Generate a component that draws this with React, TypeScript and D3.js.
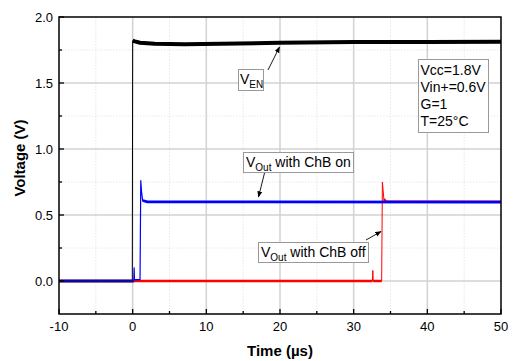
import React from "react";
import * as d3 from "d3";

const W = 513;
const H = 361;
const M = { left: 59, right: 501, top: 17, bottom: 314 };

const xTicks = [-10, 0, 10, 20, 30, 40, 50];
const xMinor = [-5, 5, 15, 25, 35, 45];
const yTicks = [0.0, 0.5, 1.0, 1.5, 2.0];
const yMinor = [0.25, 0.75, 1.25, 1.75];

// V_EN trace (time µs, volts)
const venT = [-10, -0.05, 0.0, 0.3, 1, 3, 7, 12, 20, 30, 40, 50];
const venV = [0, 0, 1.82, 1.815, 1.805, 1.797, 1.793, 1.797, 1.805, 1.81, 1.81, 1.812];

// V_Out with ChB off (red)
const offT = [-10, 32.55, 32.6, 32.65, 33.8, 33.9, 34.1, 34.4, 50];
const offV = [0, 0, 0.08, 0, 0, 0.75, 0.62, 0.6, 0.6];

// V_Out with ChB on (blue)
const onT = [-10, 0.15, 0.2, 0.25, 1.0, 1.1, 1.2, 1.35, 2, 50];
const onV = [0, 0, 0.1, 0.01, 0.01, 0.76, 0.68, 0.61, 0.6, 0.598];

const legendLines = ["Vcc=1.8V", "Vin+=0.6V", "G=1", "T=25°C"];

const x = d3.scaleLinear().domain([-10, 50]).range([M.left, M.right]);
const y = d3.scaleLinear().domain([-0.25, 2.0]).range([M.bottom, M.top]);

const line = d3
  .line<[number, number]>()
  .x((d) => x(d[0]))
  .y((d) => y(d[1]));

const zip = (a: number[], b: number[]) => a.map((t, i) => [t, b[i]] as [number, number]);

const FONT = "Arial, 'Liberation Sans', sans-serif";

function Arrow({ x1, y1, x2, y2 }: { x1: number; y1: number; x2: number; y2: number }) {
  return (
    <line x1={x1} y1={y1} x2={x2} y2={y2} stroke="#000" strokeWidth={0.9} markerEnd="url(#ah)" />
  );
}

export default function App() {
  return (
    <svg
      width={W}
      height={H}
      style={{ position: "absolute", left: 0, top: 0, background: "#fff" }}
      fontFamily={FONT}
    >
      <defs>
        <marker id="ah" viewBox="0 0 10 10" refX="9" refY="5" markerWidth="7" markerHeight="7" orient="auto">
          <path d="M0,1 L10,5 L0,9 Z" fill="#000" />
        </marker>
        <clipPath id="plot">
          <rect x={M.left} y={M.top} width={M.right - M.left} height={M.bottom - M.top} />
        </clipPath>
      </defs>
      <rect width={W} height={H} fill="#fff" />
      {/* minor grid */}
      {xMinor.map((t) => (
        <line key={"xm" + t} x1={x(t)} x2={x(t)} y1={M.top} y2={M.bottom} stroke="#e2e2e2" strokeWidth={0.8} strokeDasharray="1.5,1.5" />
      ))}
      {yMinor.map((v) => (
        <line key={"ym" + v} x1={M.left} x2={M.right} y1={y(v)} y2={y(v)} stroke="#e2e2e2" strokeWidth={0.8} strokeDasharray="1.5,1.5" />
      ))}
      {/* major grid */}
      {xTicks.slice(1, -1).map((t) => (
        <line key={"xg" + t} x1={x(t)} x2={x(t)} y1={M.top} y2={M.bottom} stroke="#d2d2d2" strokeWidth={1.5} />
      ))}
      {yTicks.slice(0, -1).map((v) => (
        <line key={"yg" + v} x1={M.left} x2={M.right} y1={y(v)} y2={y(v)} stroke="#d2d2d2" strokeWidth={1.5} />
      ))}

      {/* traces */}
      <g clipPath="url(#plot)" fill="none" strokeLinejoin="round">
        <path d={line(zip(venT, venV)) || ""} stroke="#000" strokeWidth={1} />
        <path d={line(zip(venT.slice(2), venV.slice(2))) || ""} stroke="#000" strokeWidth={4} />
        <path d={line(zip(offT, offV)) || ""} stroke="#ff0000" strokeWidth={1} />
        <path d={line(zip(offT.slice(0, 2), offV.slice(0, 2))) || ""} stroke="#ff0000" strokeWidth={2.5} />
        <path d={line(zip(offT.slice(3, 5), offV.slice(3, 5))) || ""} stroke="#ff0000" strokeWidth={2.5} />
        <path d={line(zip(offT.slice(6), offV.slice(6))) || ""} stroke="#ff0000" strokeWidth={2.5} />
        <path d={line(zip(onT, onV)) || ""} stroke="#0000ff" strokeWidth={1.2} />
        <path d={line(zip(onT.slice(0, 2), onV.slice(0, 2))) || ""} stroke="#0a0a9a" strokeWidth={3} />
        <path d={line(zip(onT.slice(7), onV.slice(7))) || ""} stroke="#0000ff" strokeWidth={2.8} />
      </g>

      {/* frame */}
      <rect x={M.left} y={M.top} width={M.right - M.left} height={M.bottom - M.top} fill="none" stroke="#000" strokeWidth={1.5} />

      {/* ticks */}
      {xTicks.map((t) => (
        <g key={"xt" + t}>
          <line x1={x(t)} x2={x(t)} y1={M.bottom} y2={M.bottom - 5} stroke="#000" strokeWidth={1.3} />
          <text x={x(t)} y={331} fontSize={13} textAnchor="middle" fill="#000">
            {t}
          </text>
        </g>
      ))}
      {xMinor.map((t) => (
        <line key={"xmt" + t} x1={x(t)} x2={x(t)} y1={M.bottom} y2={M.bottom - 3} stroke="#000" strokeWidth={1.3} />
      ))}
      {yTicks.map((v) => (
        <g key={"yt" + v}>
          <line x1={M.left} x2={M.left + 5} y1={y(v)} y2={y(v)} stroke="#000" strokeWidth={1.3} />
          <text x={53} y={y(v) + 4.5} fontSize={13} textAnchor="end" fill="#000">
            {v.toFixed(1)}
          </text>
        </g>
      ))}
      {yMinor.map((v) => (
        <line key={"ymt" + v} x1={M.left} x2={M.left + 3} y1={y(v)} y2={y(v)} stroke="#000" strokeWidth={1.3} />
      ))}

      {/* axis titles */}
      <text x={280} y={356} fontSize={15} fontWeight="bold" textAnchor="middle">
        Time (µs)
      </text>
      <text transform="translate(25,158) rotate(-90)" fontSize={15} fontWeight="bold" textAnchor="middle">
        Voltage (V)
      </text>

      {/* legend box */}
      <rect x={418.5} y={59.5} width={70} height={73} fill="#fff" stroke="#999" strokeWidth={1} />
      {legendLines.map((s, i) => (
        <text key={s} x={420.5} y={75 + i * 17} fontSize={14} fill="#000">
          {s}
        </text>
      ))}

      {/* annotations */}
      <rect x={238.5} y={69.5} width={25} height={21} fill="#fff" stroke="#999" strokeWidth={1} />
      <text x={240} y={84} fontSize={14}>
        V<tspan fontSize={10} dy={4}>EN</tspan>
      </text>
      <Arrow x1={268} y1={70} x2={279.5} y2={47} />

      <rect x={243.5} y={152.5} width={110} height={20} fill="#fff" stroke="#999" strokeWidth={1} />
      <text x={246} y={167} fontSize={14}>
        V<tspan fontSize={10} dy={4}>Out</tspan>
        <tspan dy={-4}> with ChB on</tspan>
      </text>
      <Arrow x1={264.5} y1={173} x2={258.5} y2={197} />

      <rect x={258.5} y={242.5} width={110} height={20} fill="#fff" stroke="#999" strokeWidth={1} />
      <text x={261} y={257} fontSize={14}>
        V<tspan fontSize={10} dy={4}>Out</tspan>
        <tspan dy={-4}> with ChB off</tspan>
      </text>
      <Arrow x1={366} y1={240} x2={381} y2={231.5} />
    </svg>
  );
}
